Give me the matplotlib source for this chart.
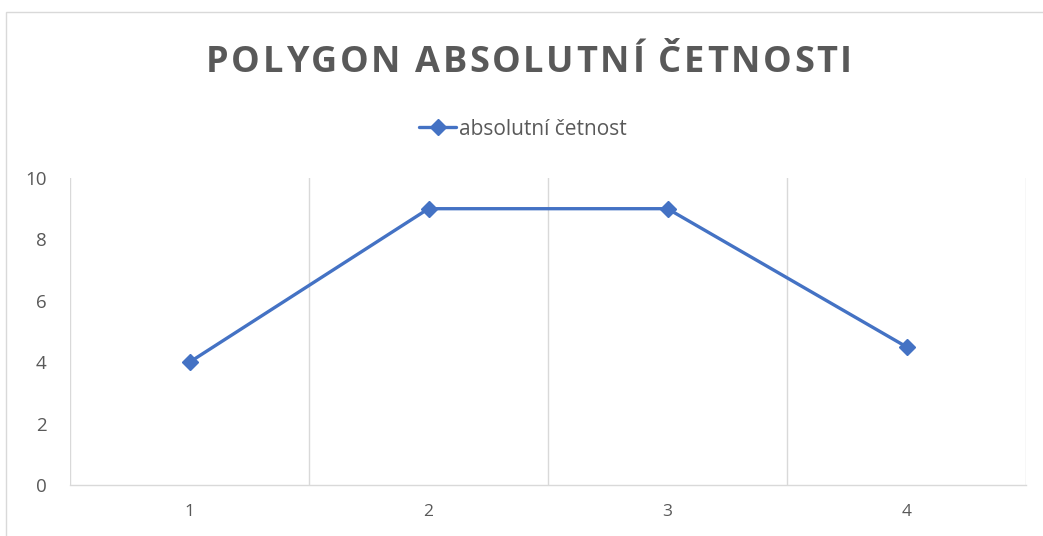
import matplotlib
matplotlib.use("Agg")
import matplotlib.pyplot as plt
from matplotlib.patches import Rectangle
from matplotlib.font_manager import FontProperties

categories = ["1", "2", "3", "4"]
values = [4, 9, 9, 4.5]
series_name = "absolutní četnost"
title = "POLYGON ABSOLUTNÍ ČETNOSTI"
yticks = [0, 2, 4, 6, 8, 10]

W, H = 1043, 536
fig = plt.figure(figsize=(W / 100, H / 100), dpi=100)
fig.patch.set_facecolor("white")

# chart border
fig.add_artist(Rectangle((6 / W, -0.1), 1.2, (1 - 12 / H) + 0.1, transform=fig.transFigure,
                         fill=False, edgecolor="#D9D9D9", linewidth=1.0))

ax = fig.add_axes([70 / W, (H - 485) / H, (1026 - 70) / W, (485 - 178) / H])
x = list(range(1, len(categories) + 1))
line, = ax.plot(x, values, color="#4472C4", linewidth=2.4, marker="D", markersize=8,
                markerfacecolor="#4472C4", markeredgecolor="#4472C4", label=series_name,
                solid_capstyle="round", zorder=3)

ax.set_xlim(0.5, len(categories) + 0.5)
ax.set_ylim(0, 10)
ax.set_yticks(yticks)
ax.set_yticklabels([str(v) for v in yticks])
ax.set_xticks(x)
ax.set_xticklabels(categories)
for b in [i + 0.5 for i in range(0, len(categories) + 1)]:
    ax.axvline(b, color="#D9D9D9", linewidth=1.0, zorder=1)

for s in ["top", "right", "left"]:
    ax.spines[s].set_visible(False)
ax.spines["bottom"].set_color("#D9D9D9")
ax.spines["bottom"].set_linewidth(1.0)
ax.tick_params(axis="both", length=0, colors="#595959")
ax.tick_params(axis="y", labelsize=13.5, pad=17)
ax.tick_params(axis="x", labelsize=12.5, pad=14)
for lab in ax.get_xticklabels() + ax.get_yticklabels():
    lab.set_fontfamily("Open Sans")

# Title with letter spacing, drawn character by character
fp = FontProperties(family="Open Sans", weight="bold", size=26)
renderer = fig.canvas.get_renderer()


def text_w(s):
    return renderer.get_text_width_height_descent(s, fp, ismath=False)[0]


bar_w = text_w("|")
widths = [text_w(ch + "|") - bar_w for ch in title]
target_w = 852 - 206
natural = sum(widths)
spacing = (target_w - natural) / (len(title) - 1)
xpos = 529 - target_w / 2
for ch, w in zip(title, widths):
    fig.text(xpos / W, 1 - 58 / H, ch, ha="left", va="center_baseline", fontproperties=fp,
             color="#595959")
    xpos += w + spacing

leg = fig.legend(handles=[line], loc="center", bbox_to_anchor=(523 / W, 1 - 129 / H),
                 frameon=False, prop={"family": "Open Sans", "size": 15},
                 handlelength=1.8, handletextpad=0.15, borderpad=0)
for t in leg.get_texts():
    t.set_color("#595959")

fig.savefig("out.png", dpi=100)
